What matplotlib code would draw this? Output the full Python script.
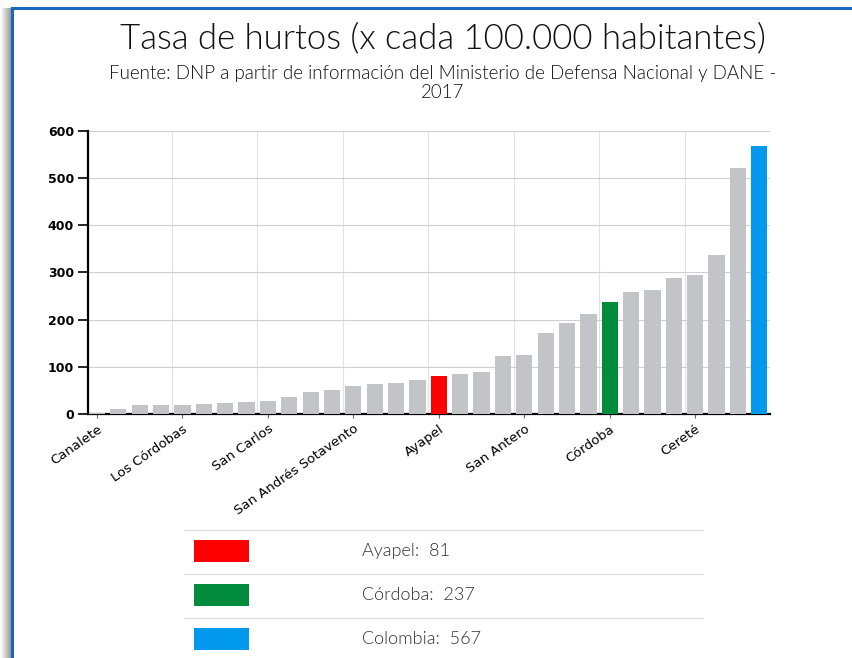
import numpy as np
import matplotlib.pyplot as plt
from matplotlib.patches import Rectangle
from matplotlib.lines import Line2D

# tasa de hurtos por municipio, de menor a mayor; el ultimo valor es Colombia
valores = [3, 10, 19, 19, 19, 22, 24, 25, 28, 35, 47, 51, 60, 64, 66, 71,
           81, 85, 88, 123, 126, 171, 193, 211, 237, 258, 262, 289, 294, 337, 522, 567]
etiquetas = ['Canalete', 'Los Córdobas', 'San Carlos', 'San Andrés Sotavento',
             'Ayapel', 'San Antero', 'Córdoba', 'Cereté']
pos_etiquetas = [0, 4, 8, 12, 16, 20, 24, 28]

destacados = ['Ayapel', 'Córdoba', 'Colombia']
pos_destacados = [16, 24, 31]
colores_destacados = ['#ff0000', '#008c3c', '#0099ee']
gris = '#c2c4c7'

fuente_titulo = ['Lato', 'DejaVu Sans']

W, H = 852, 658
fig = plt.figure(figsize=(W / 100, H / 100), dpi=100)

# capa de fondo en pixeles: marco, sombra y tabla de leyenda
fondo = fig.add_axes([0, 0, 1, 1], zorder=0)
fondo.set_xlim(0, W)
fondo.set_ylim(H, 0)
fondo.axis('off')

sombra = np.linspace(1.0, 0.62, 12).reshape(1, -1)
fondo.imshow(sombra, cmap='gray', vmin=0, vmax=1, aspect='auto',
             extent=(0, 11, H, 8), zorder=1)
fondo.add_line(Line2D([12, 12], [8, H], color='#1868c0', lw=2.2, zorder=2))
fondo.add_line(Line2D([12, W], [8, 8], color='#1868c0', lw=2.2, zorder=2))

fondo.text(443, 38, 'Tasa de hurtos (x cada 100.000 habitantes)', ha='center', va='center',
           fontsize=25, family=fuente_titulo, fontweight=300, color='#111111')
fondo.text(443, 74, 'Fuente: DNP a partir de información del Ministerio de Defensa Nacional y DANE -',
           ha='center', va='center', fontsize=13.5, family=fuente_titulo, fontweight=300,
           color='#111111')
fondo.text(443, 93, '2017', ha='center', va='center', fontsize=13.5, family=fuente_titulo,
           fontweight=300, color='#111111')

# tabla de leyenda
y_lineas = [530, 574, 618]
for y in y_lineas:
    fondo.add_line(Line2D([184, 703], [y, y], color='#e2e2e2', lw=1, zorder=2))
for i, (nombre, pos, col) in enumerate(zip(destacados, pos_destacados, colores_destacados)):
    yc = 551 + 44 * i
    fondo.add_patch(Rectangle((194, yc - 11), 55, 22, facecolor=col, edgecolor='none', zorder=2))
    fondo.text(362, yc, f'{nombre}:  {valores[pos]}', ha='left', va='center', fontsize=13,
               family=fuente_titulo, fontweight=300, color='#333333')

# grafico de barras
ax = fig.add_axes([88 / W, 1 - 414 / H, (770 - 88) / W, (414 - 130.7) / H], zorder=2)
x = np.arange(len(valores))
colores = [gris] * len(valores)
for pos, col in zip(pos_destacados, colores_destacados):
    colores[pos] = col
ax.bar(x, valores, width=0.76, color=colores, zorder=3)

ax.set_xlim(-0.42, len(valores) - 0.5)
ax.set_ylim(0, 600)
ax.set_yticks(range(0, 601, 100))
ax.set_xticks(pos_etiquetas)
ax.set_xticklabels(etiquetas, rotation=35, ha='right', rotation_mode='anchor',
                   fontsize=9.5, family='DejaVu Sans', color='#000000')
ax.set_xticks(np.arange(3.5, 28, 4), minor=True)
for lab in ax.get_yticklabels():
    lab.set_fontweight('bold')
    lab.set_fontsize(9)

ax.grid(axis='y', color='#cfcfcf', lw=0.8, zorder=0)
ax.grid(axis='x', which='minor', color='#e3e3e3', lw=0.8, zorder=0)
ax.tick_params(axis='x', which='minor', length=0)
ax.tick_params(axis='x', which='major', length=3, width=0.8, color='#666666', pad=3)
ax.tick_params(axis='y', length=7, width=1.2, pad=3)

for s in ['top', 'right']:
    ax.spines[s].set_visible(False)
ax.spines['left'].set_linewidth(1.6)
ax.spines['bottom'].set_linewidth(1.6)

fig.savefig('out.png', dpi=100)
